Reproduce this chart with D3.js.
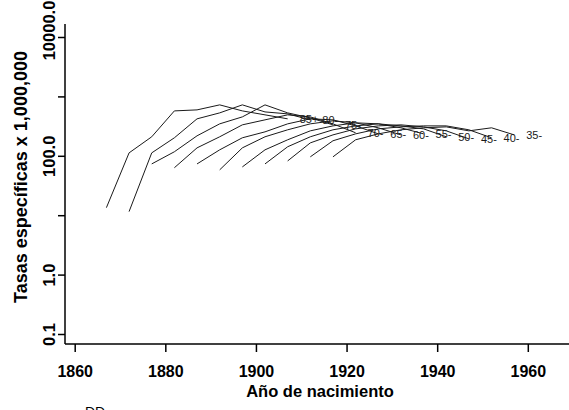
<!DOCTYPE html>
<html><head><meta charset="utf-8">
<script src="https://cdn.jsdelivr.net/npm/d3@7"></script>
<style>body{margin:0;background:#fff;} svg{display:block;}</style>
</head><body>
<svg id="c" width="569" height="410"></svg>
<script>
// Age groups (one line each), first birth cohort of each line, cohort offsets
const ageGroups = ["85+","80-","75-","70-","65-","60-","55-","50-","45-","40-","35-"];
const cohortStart = [1867,1872,1877,1882,1887,1892,1897,1902,1907,1912,1917];
const cohortOffsets = [0,5,10,15,20,25,30,35,40];
// rates per 1,000,000
const rate85 = [13.4,112,209,570,593,720,570,489,419];
const rate80 = [11.5,112,201,419,528,720,548,508,403];
const rate75 = [73,117,217,345,452,720,528,435,332];
const rate70 = [63,136,209,332,403,489,452,345,244];
const rate65 = [73,126,201,253,345,419,403,319,234];
const rate60 = [58,136,209,274,345,388,359,296,225];
const rate55 = [65,126,186,263,319,359,345,296,234];
const rate50 = [73,142,209,274,319,345,319,284,209];
const rate45 = [82,165,225,284,319,332,307,263,193];
const rate40 = [96,179,234,284,307,319,319,274,201];
const rate35 = [96,186,234,274,296,307,263,296,225];
const rates = [rate85,rate80,rate75,rate70,rate65,rate60,rate55,rate50,rate45,rate40,rate35];

const xTicks = [1860,1880,1900,1920,1940,1960];
const yTicks = [0.1,1,10,100,1000,10000];
const yTickLabels = ["0.1","1.0","","100.0","","10000.0"];
const xTitle = "Año de nacimiento";
const yTitle = "Tasas específicas x 1,000,000";

const svg = d3.select("#c");
const x = d3.scaleLinear().domain([1860,1960]).range([74.7,527.8]);
const y = d3.scaleLog().domain([0.1,10000]).range([334,37]);
const axL = 65, axB = 344;
const FF = "Liberation Sans, Arial, sans-serif";

const series = ageGroups.map((g,i)=>({
  label:g,
  pts: cohortOffsets.map((o,j)=>({c:cohortStart[i]+o, v:rates[i][j]}))
}));

const line = d3.line().x(d=>x(d.c)).y(d=>y(d.v));
svg.append("g").selectAll("path").data(series).join("path")
  .attr("d",d=>line(d.pts)).attr("fill","none")
  .attr("stroke","#1a1a1a").attr("stroke-width",1);

svg.append("g").selectAll("text").data(series).join("text")
  .attr("x",d=>x(d.pts[d.pts.length-1].c)+12)
  .attr("y",d=>y(d.pts[d.pts.length-1].v))
  .attr("dominant-baseline","central")
  .attr("font-family",FF)
  .attr("font-size",11).attr("fill","#1a1a1a")
  .text(d=>d.label);

// x axis
const gx = svg.append("g").attr("transform",`translate(0,${axB})`)
  .call(d3.axisBottom(x).tickValues(xTicks).tickSize(8).tickFormat(d3.format("d")));
gx.select(".domain").remove();
gx.selectAll(".tick line").attr("stroke","#000").attr("stroke-width",1.5);
gx.selectAll(".tick text").attr("y",33).attr("dy",0)
  .attr("font-family",FF).attr("font-weight","bold")
  .attr("font-size",16).attr("fill","#000");
svg.append("line").attr("x1",axL).attr("x2",569).attr("y1",axB).attr("y2",axB)
  .attr("stroke","#000").attr("stroke-width",1.5);

// y axis
const gy = svg.append("g").attr("transform",`translate(${axL},0)`)
  .call(d3.axisLeft(y).tickValues(yTicks).tickSize(7).tickFormat((d,i)=>yTickLabels[i]));
gy.select(".domain").remove();
gy.selectAll(".tick line").attr("stroke","#000").attr("stroke-width",1.5);
gy.selectAll(".tick text").attr("x",0).attr("dy",0)
  .attr("transform",d=>`translate(-10,${d===10000?-7:0}) rotate(-90)`).attr("text-anchor","middle")
  .attr("font-family",FF).attr("font-weight","bold")
  .attr("font-size",16.5).attr("fill","#000");
svg.append("line").attr("x1",axL).attr("x2",axL).attr("y1",24).attr("y2",axB)
  .attr("stroke","#000").attr("stroke-width",1.5);

// titles
svg.append("text").attr("x",320).attr("y",397).attr("text-anchor","middle")
  .attr("font-family",FF).attr("font-weight","bold")
  .attr("font-size",16.5).text(xTitle);
svg.append("text").attr("transform","translate(27,177) rotate(-90)").attr("text-anchor","middle")
  .attr("font-family",FF).attr("font-weight","bold")
  .attr("font-size",18).text(yTitle);
svg.append("text").attr("x",85).attr("y",417)
  .attr("font-family",FF)
  .attr("font-size",14).text("DD");
</script>
</body></html>
